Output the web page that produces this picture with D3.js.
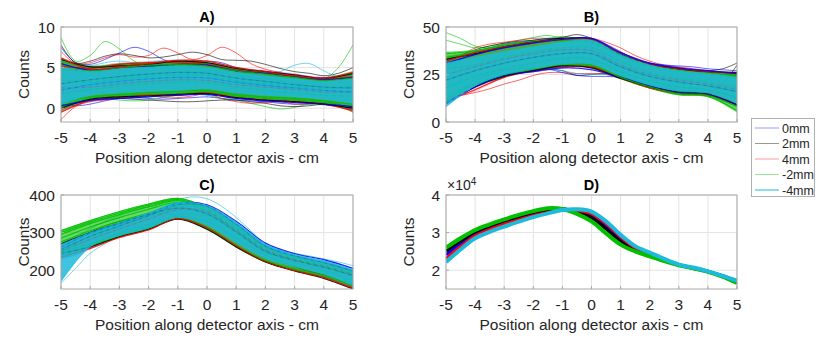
<!DOCTYPE html>
<html><head><meta charset="utf-8">
<script src="https://cdn.jsdelivr.net/npm/d3@7"></script>
<style>body{margin:0;background:#fff}svg{display:block;font-family:"Liberation Sans",Arial,sans-serif}</style>
</head><body><svg id="c" width="816" height="339"></svg>
<script>
// ---------- data ----------
const seriesNames = ["0mm", "2mm", "4mm", "-2mm", "-4mm"];
const xTicks = [-5, -4, -3, -2, -1, 0, 1, 2, 3, 4, 5];
const xCoarse = [-5, -4, -3, -2, -1, 0, 1, 2, 3, 4, 5];
const xFine = [-5, -4.5, -4, -3.5, -3, -2.5, -2, -1.5, -1, -0.5, 0, 0.5, 1, 1.5, 2, 2.5, 3, 3.5, 4, 4.5, 5];

// Panel A: envelope of each series' bundle of profiles (xCoarse), order as seriesNames
const aHi = [
  [6.0, 5.2, 5.5, 5.8, 6.0, 5.7, 5.1, 4.6, 4.2, 3.9, 4.4],
  [6.2, 5.3, 5.6, 5.7, 5.9, 5.8, 5.0, 4.7, 4.3, 3.8, 4.5],
  [6.3, 5.2, 5.6, 5.8, 6.0, 5.7, 5.0, 4.6, 4.2, 3.8, 4.6],
  [6.1, 5.2, 5.5, 5.7, 5.9, 5.7, 5.0, 4.5, 4.1, 3.7, 4.3],
  [5.0, 4.5, 4.8, 5.0, 5.2, 5.0, 4.4, 4.0, 3.6, 3.3, 3.6]];
const aLo = [
  [-0.3, 0.8, 1.1, 1.3, 1.5, 1.6, 1.1, 0.8, 0.6, 0.4, -0.2],
  [-0.4, 0.9, 1.2, 1.4, 1.5, 1.7, 1.2, 0.9, 0.7, 0.4, -0.3],
  [-0.6, 0.9, 1.2, 1.5, 1.6, 1.8, 1.2, 0.9, 0.7, 0.5, -0.4],
  [-0.2, 1.0, 1.3, 1.5, 1.6, 1.8, 1.3, 1.0, 0.8, 0.5, -0.1],
  [0.5, 1.6, 1.9, 2.1, 2.2, 2.4, 1.9, 1.6, 1.4, 1.1, 0.6]];
// Panel A: individual profiles inside the bundle (xCoarse) and their series
const aLineSeries = [3, 2, 1, 0, 3, 2, 3, 2, 1, 0, 3, 3, 2, 1, 3, 0];
const aLines = [
  [5.8, 5.0, 5.3, 5.5, 5.7, 5.5, 4.8, 4.4, 4.0, 3.6, 4.2],
  [5.2, 4.9, 5.4, 5.6, 5.6, 5.4, 4.7, 4.3, 3.9, 3.6, 3.9],
  [6.0, 5.1, 5.2, 5.4, 5.8, 5.6, 4.9, 4.5, 4.1, 3.7, 4.3],
  [5.5, 4.7, 5.0, 5.2, 5.4, 5.3, 4.6, 4.3, 3.9, 3.5, 3.8],
  [4.8, 4.6, 5.0, 5.3, 5.4, 5.2, 4.6, 4.2, 3.8, 3.4, 3.7],
  [6.2, 4.8, 5.1, 5.5, 5.9, 5.8, 5.0, 4.5, 4.0, 3.7, 4.4],
  [0.2, 1.2, 1.5, 1.7, 1.8, 2.0, 1.5, 1.2, 1.0, 0.7, 0.1],
  [-0.5, 1.0, 1.3, 1.6, 1.6, 1.9, 1.3, 1.0, 0.8, 0.5, -0.3],
  [0.0, 1.1, 1.4, 1.5, 1.7, 1.8, 1.3, 1.0, 0.8, 0.5, 0.0],
  [0.3, 1.0, 1.2, 1.4, 1.6, 1.7, 1.2, 0.9, 0.7, 0.5, 0.2],
  [0.6, 1.4, 1.7, 1.9, 2.1, 2.2, 1.7, 1.4, 1.2, 0.9, 0.5],
  [3.5, 3.2, 3.6, 3.9, 4.1, 4.0, 3.4, 3.0, 2.7, 2.4, 2.8],
  [2.5, 2.6, 3.0, 3.3, 3.5, 3.4, 2.9, 2.6, 2.3, 2.0, 2.0],
  [3.0, 3.5, 3.9, 4.2, 4.4, 4.3, 3.7, 3.3, 2.9, 2.6, 2.5],
  [1.8, 2.3, 2.7, 3.0, 3.2, 3.1, 2.6, 2.2, 1.9, 1.6, 1.5],
  [2.2, 2.9, 3.3, 3.6, 3.8, 3.7, 3.2, 2.8, 2.5, 2.2, 2.0]];
// Panel A: outlying profiles (xFine) and their series
const aOutSeries = [3, 0, 2, 1, 4, 3, 0, 3, 2, 1];
const aOut = [
  [8.7, 5.8, 6.5, 8.2, 7.3, 5.8, 5.2, 5.0, 4.8, 4.6, 4.5, 4.3, 4.0, 3.8, 3.6, 3.4, 3.2, 3.1, 3.3, 4.0, 4.5],
  [7.5, 5.6, 5.4, 6.0, 6.8, 7.5, 7.0, 6.0, 5.5, 5.6, 5.8, 5.6, 5.0, 4.6, 4.3, 4.0, 3.8, 3.6, 3.5, 3.8, 4.2],
  [7.0, 5.5, 5.6, 6.2, 6.6, 6.3, 6.5, 7.4, 6.8, 6.0, 6.5, 7.5, 6.8, 5.5, 4.8, 4.4, 4.0, 3.7, 3.6, 3.8, 4.3],
  [7.8, 5.6, 5.8, 6.4, 6.7, 6.5, 6.2, 6.3, 6.6, 6.9, 6.6, 6.0, 5.9, 5.8, 5.4, 4.9, 4.5, 4.3, 4.0, 4.3, 5.0],
  [5.5, 5.0, 5.2, 5.6, 5.8, 5.6, 5.4, 5.5, 5.6, 5.5, 5.3, 5.0, 4.8, 4.6, 4.4, 4.5, 5.3, 5.5, 4.6, 3.9, 4.2],
  [4.5, 4.8, 5.0, 5.2, 5.4, 5.5, 5.4, 5.3, 5.2, 5.0, 4.8, 4.6, 4.4, 4.2, 4.0, 3.9, 3.8, 3.7, 3.6, 5.0, 7.8],
  [0.5, 0.3, 0.5, 0.9, 1.2, 1.3, 1.2, 1.1, 1.2, 1.3, 1.4, 1.2, 1.0, 0.9, 0.8, 0.6, 0.5, 0.5, 0.6, 0.4, -0.2],
  [-0.3, 0.6, 1.0, 1.2, 1.0, 0.9, 1.0, 1.3, 1.6, 1.7, 1.6, 1.2, 1.0, 0.6, 0.2, -0.1, 0.1, 0.5, 0.4, 0.2, -0.5],
  [-1.4, 0.2, 0.8, 1.0, 1.3, 1.5, 1.6, 1.3, 1.3, 1.5, 1.8, 1.2, 0.8, 0.6, 0.7, 0.8, 0.5, 0.6, 0.7, 0.5, -0.5],
  [0.2, 0.6, 0.9, 1.1, 1.2, 1.1, 1.0, 0.9, 0.8, 0.8, 0.9, 1.0, 1.0, 0.8, 0.6, 0.3, 0.2, 0.3, 0.5, 0.4, 0.0]];

// Panel B
const bHi = [
  [34, 37, 40, 42.5, 44, 44.5, 37, 31.5, 29, 27.5, 26],
  [35, 37.5, 40.5, 43, 44.5, 44, 36, 31, 28.5, 27, 27],
  [33, 37.5, 40, 42.5, 44, 44, 37, 31, 28.5, 27, 26],
  [37, 38, 41, 43, 44, 43, 35.5, 30.5, 28, 26.5, 25],
  [31, 34, 37, 39.5, 42, 43, 35.5, 30, 27, 25.5, 23.5]];
const bLo = [
  [9, 18, 24, 26, 28, 27, 23, 18.5, 15, 14, 8],
  [10, 18, 23.5, 26.5, 29, 28, 22.5, 18, 15, 14, 8],
  [11, 16, 23, 26.5, 28.5, 28.5, 22.5, 17.5, 14.5, 13.5, 8],
  [11, 19, 24, 27, 29.5, 29, 22.5, 17.5, 14, 13, 5],
  [8, 19, 25, 28, 30.5, 30.5, 24.5, 19.5, 16.5, 15.5, 10]];
const bLineSeries = [3, 3, 1, 2, 0, 3, 2, 1, 0, 3, 3, 1, 2, 3];
const bLines = [
  [36, 37.5, 40.5, 42.5, 43.5, 42.5, 35, 30, 27.5, 26, 24.5],
  [34, 36.5, 40, 42, 43, 42, 34.5, 29.5, 27, 25.5, 24],
  [33, 36, 39.5, 42, 44, 43.5, 35.5, 30.5, 28, 26.5, 26],
  [32, 36.5, 39.5, 42, 43.5, 43.5, 36.5, 30.5, 28, 26.5, 25.5],
  [31, 35.5, 39, 41.5, 43.5, 44, 36.5, 31, 28.5, 27, 25.5],
  [12, 19.5, 24.5, 27.5, 30, 29.5, 23, 18, 14.5, 13.5, 6],
  [11, 17, 23.5, 27, 29, 29, 23, 18, 15, 14, 9],
  [10, 18.5, 24, 27, 29.5, 28.5, 23, 18.5, 15.5, 14.5, 9],
  [9.5, 18.5, 24.5, 26.5, 28.5, 27.5, 23.5, 19, 15.5, 14.5, 9],
  [14, 20, 25, 28, 30.5, 30, 23.5, 18.5, 15, 14, 8],
  [28, 30, 34, 37, 39, 39, 32, 26, 23, 21, 18],
  [22, 27, 31, 34, 36, 36, 29, 24, 21, 19, 16],
  [25, 29, 33, 36, 38, 37.5, 30, 25, 22, 20, 17],
  [18, 24, 28, 31, 33.5, 33, 26.5, 21.5, 18.5, 17, 13]];
const bOutSeries = [3, 3, 1, 1, 2, 2, 0, 0, 4];
const bOut = [
  [47, 44, 40, 39, 40, 41.5, 43, 44, 45, 44, 43, 40, 36, 33, 31, 29.5, 28.5, 27.5, 27, 26, 25],
  [43, 41, 39, 40, 41.5, 43, 44.5, 45.5, 44, 43, 42, 39, 35, 32, 30, 29, 28, 27, 26, 25, 24],
  [33, 35, 38, 40, 41.5, 42.5, 43, 43.5, 44.5, 46, 44, 40, 36, 32, 30, 29, 28, 27, 27, 28, 31],
  [12, 16, 20, 22.5, 25, 26.5, 27.5, 28, 27, 24.5, 25, 25.5, 24, 21, 19, 17, 16, 15, 15.5, 20, 30],
  [13, 14, 15.5, 17.5, 20, 22, 24.5, 26, 26, 25.5, 25.5, 25, 23, 21, 19, 17, 15.5, 15, 14.5, 13, 9],
  [32, 35, 39, 41, 42, 43, 44, 44, 43, 43.5, 44, 42, 39, 35, 32, 30, 29, 28, 27, 26, 24],
  [10, 17, 22, 25, 27, 28, 28.5, 28, 26, 24.5, 24, 24, 23.5, 22, 20, 18, 16.5, 15.5, 15, 15, 12],
  [30, 33, 37, 39, 41, 42, 43, 44, 44, 44, 44, 41, 37, 33, 31, 30, 29.5, 29, 28, 27.5, 27],
  [10, 14, 19, 22, 25, 26, 27, 27.5, 27, 25.5, 25, 25, 24, 22, 20, 18, 17, 16, 15.5, 15, 13]];

// Panel C
const cHi = [
  [262, 298, 324, 350, 378, 374, 330, 272, 244, 228, 205],
  [255, 290, 318, 345, 374, 370, 322, 264, 238, 220, 198],
  [258, 292, 320, 346, 376, 372, 324, 266, 238, 220, 200],
  [307, 333, 357, 377, 392, 368, 318, 262, 236, 218, 198],
  [268, 300, 326, 352, 380, 372, 328, 270, 242, 225, 202]];
const cLo = [
  [225, 256, 287, 308, 338, 314, 266, 224, 200, 182, 152],
  [230, 258, 288, 308, 335, 308, 262, 222, 198, 178, 148],
  [228, 255, 285, 306, 336, 312, 264, 222, 198, 180, 150],
  [232, 262, 288, 310, 336, 310, 262, 222, 198, 180, 152],
  [170, 262, 292, 312, 340, 320, 274, 232, 210, 190, 160]];
const cLineSeries = [3, 3, 3, 3, 3, 1, 2, 0, 1, 3, 3, 1, 2];
const cLines = [
  [305, 332, 356, 376, 391, 366, 316, 260, 234, 216, 196],
  [300, 328, 352, 373, 388, 362, 312, 256, 230, 213, 193],
  [295, 324, 348, 369, 385, 358, 308, 252, 227, 210, 190],
  [240, 265, 290, 311, 337, 310, 262, 222, 200, 182, 160],
  [250, 270, 294, 314, 340, 314, 266, 226, 203, 185, 165],
  [245, 262, 289, 309, 336, 309, 262, 222, 198, 178, 150],
  [235, 258, 287, 307, 337, 313, 265, 223, 199, 181, 152],
  [262, 298, 324, 350, 378, 374, 330, 272, 244, 228, 205],
  [255, 290, 318, 345, 374, 370, 322, 264, 238, 220, 198],
  [285, 315, 340, 362, 380, 356, 306, 254, 229, 211, 190],
  [275, 305, 330, 352, 370, 348, 300, 249, 225, 207, 186],
  [270, 300, 325, 348, 365, 350, 302, 250, 226, 208, 186],
  [250, 282, 310, 336, 362, 355, 306, 254, 228, 210, 188]];
const cOutSeries = [4, 4, 3, 1, 2];
const cOut = [
  [165, 205, 245, 270, 290, 305, 318, 330, 345, 360, 362, 345, 320, 295, 265, 248, 238, 230, 222, 212, 195],
  [270, 290, 310, 330, 345, 358, 368, 378, 388, 395, 390, 370, 340, 305, 270, 252, 245, 238, 230, 222, 212],
  [235, 240, 262, 285, 300, 312, 322, 332, 340, 350, 345, 330, 300, 270, 245, 232, 220, 208, 196, 185, 172],
  [260, 280, 300, 318, 330, 340, 348, 352, 345, 338, 330, 310, 285, 262, 240, 225, 210, 197, 188, 175, 155],
  [250, 272, 292, 310, 322, 332, 342, 352, 362, 372, 368, 345, 315, 285, 255, 238, 225, 212, 200, 188, 160]];

// Panel D: summed profiles (counts) at xFine
const dVals = [
  [24100, 27100, 29700, 31400, 32700, 33900, 34900, 35700, 36200, 35800, 34600, 31600, 28100, 25600, 24200, 22700, 21400, 20600, 19700, 18500, 17200],
  [25100, 27800, 30200, 31800, 33100, 34300, 35300, 36000, 36300, 35500, 34000, 31000, 27600, 25300, 23900, 22500, 21400, 20500, 19600, 18400, 16800],
  [23100, 26200, 29100, 30800, 32200, 33400, 34500, 35300, 36000, 35900, 35100, 32400, 28900, 26000, 24500, 22800, 21500, 20600, 19600, 18300, 16600],
  [26000, 28500, 30700, 32200, 33500, 34700, 35700, 36500, 36300, 35000, 33000, 29800, 26800, 25000, 23700, 22400, 21300, 20500, 19600, 18300, 16600],
  [22200, 25500, 28500, 30200, 31600, 32900, 34100, 35100, 36000, 36200, 35600, 33000, 29400, 26400, 24700, 23000, 21500, 20700, 19700, 18500, 17200]];

const yTicksA = [0, 5, 10], yTicksB = [0, 25, 50], yTicksC = [200, 300, 400], yTicksD = [20000, 30000, 40000];
const titles = ["A)", "B)", "C)", "D)"];

// ---------- styles / layout ----------
const colors = ["#0000ff", "#000000", "#ff0000", "#00c000", "#1cbadb"];
const bandOpacity = [0.18, 0.18, 0.18, 0.6];
const svg = d3.select("#c");
const panels = [
  {x0: 61, x1: 353, y0: 27, y1: 122, ylim: [-1.7, 10], yt: yTicksA, hi: aHi, lo: aLo, lines: aLines, ls: aLineSeries, out: aOut, os: aOutSeries, fmt: d => d},
  {x0: 446, x1: 737, y0: 27, y1: 122, ylim: [0, 50], yt: yTicksB, hi: bHi, lo: bLo, lines: bLines, ls: bLineSeries, out: bOut, os: bOutSeries, fmt: d => d},
  {x0: 61, x1: 353, y0: 195, y1: 289, ylim: [150, 400], yt: yTicksC, hi: cHi, lo: cLo, lines: cLines, ls: cLineSeries, out: cOut, os: cOutSeries, fmt: d => d},
  {x0: 446, x1: 737, y0: 195, y1: 289, ylim: [15000, 40000], yt: yTicksD, d: dVals, fmt: d => d / 10000}];

panels.forEach((p, i) => {
  const x = d3.scaleLinear().domain([-5, 5]).range([p.x0, p.x1]);
  const y = d3.scaleLinear().domain(p.ylim).range([p.y1, p.y0]);
  const g = svg.append("g");
  const cid = "clip" + i;
  g.append("clipPath").attr("id", cid).append("rect")
    .attr("x", p.x0).attr("y", p.y0).attr("width", p.x1 - p.x0).attr("height", p.y1 - p.y0);
  g.selectAll(".gx").data(xTicks).join("line").attr("x1", d => x(d)).attr("x2", d => x(d))
    .attr("y1", p.y0).attr("y2", p.y1).attr("stroke", "#e3e3e3").attr("stroke-width", 1);
  g.selectAll(".gy").data(p.yt).join("line").attr("y1", d => y(d)).attr("y2", d => y(d))
    .attr("x1", p.x0).attr("x2", p.x1).attr("stroke", "#e3e3e3").attr("stroke-width", 1);
  const plot = g.append("g").attr("clip-path", `url(#${cid})`);
  if (p.hi) {
    const area = d3.area().x((d, k) => x(xCoarse[k])).y0(d => y(d[0])).y1(d => y(d[1])).curve(d3.curveCatmullRom);
    const lineC = d3.line().x((d, k) => x(xCoarse[k])).y(d => y(d)).curve(d3.curveCatmullRom);
    const lineF = d3.line().x((d, k) => x(xFine[k])).y(d => y(d)).curve(d3.curveCatmullRom);
    p.out.forEach((vals, k) => {
      plot.append("path").attr("d", lineF(vals)).attr("fill", "none")
        .attr("stroke", colors[p.os[k]]).attr("stroke-width", 0.8).attr("stroke-opacity", 0.75);
    });
    [0, 1, 2, 3].forEach(s => {
      const pts = p.hi[s].map((h, k) => [p.lo[s][k], h]);
      plot.append("path").attr("d", area(pts)).attr("fill", colors[s]).attr("fill-opacity", bandOpacity[s]);
    });
    p.lines.forEach((vals, k) => {
      plot.append("path").attr("d", lineC(vals)).attr("fill", "none")
        .attr("stroke", colors[p.ls[k]]).attr("stroke-width", 1.2).attr("stroke-opacity", 0.85);
    });
    const cpts = p.hi[4].map((h, k) => [p.lo[4][k], h]);
    plot.append("path").attr("d", area(cpts)).attr("fill", colors[4]).attr("fill-opacity", 0.86);
    plot.append("path").attr("d", lineC(p.hi[4])).attr("fill", "none").attr("stroke", colors[4]).attr("stroke-width", 0.8);
    plot.append("path").attr("d", lineC(p.lo[4])).attr("fill", "none").attr("stroke", colors[4]).attr("stroke-width", 0.8);
    p.lines.forEach((vals, k) => {
      plot.append("path").attr("d", lineC(vals)).attr("fill", "none").attr("stroke-dasharray", "3 4")
        .attr("stroke", colors[p.ls[k]]).attr("stroke-width", 0.7).attr("stroke-opacity", 0.25);
    });
  } else {
    const lineF = d3.line().x((d, k) => x(xFine[k])).y(d => y(d)).curve(d3.curveCatmullRom);
    [0, 1, 2, 3, 4].forEach(s => {
      plot.append("path").attr("d", lineF(p.d[s])).attr("fill", "none")
        .attr("stroke", colors[s]).attr("stroke-width", s === 3 || s === 4 ? 4 : 3.2);
    });
  }
  g.append("rect").attr("x", p.x0).attr("y", p.y0).attr("width", p.x1 - p.x0).attr("height", p.y1 - p.y0)
    .attr("fill", "none").attr("stroke", "#a8a8a8").attr("stroke-width", 1);
  g.selectAll(".tx").data(xTicks).join("line").attr("x1", d => x(d)).attr("x2", d => x(d))
    .attr("y1", p.y1).attr("y2", p.y1 - 3).attr("stroke", "#a8a8a8");
  g.selectAll(".ty").data(p.yt).join("line").attr("y1", d => y(d)).attr("y2", d => y(d))
    .attr("x1", p.x0).attr("x2", p.x0 + 3).attr("stroke", "#a8a8a8");
  g.selectAll(".lx").data(xTicks).join("text").attr("x", d => x(d)).attr("y", p.y1 + 21)
    .attr("text-anchor", "middle").attr("font-size", 15.5).attr("fill", "#262626").text(d => d);
  g.selectAll(".ly").data(p.yt).join("text").attr("x", p.x0 - 6).attr("y", d => y(d) + 5.5)
    .attr("text-anchor", "end").attr("font-size", 15.5).attr("fill", "#262626").text(p.fmt);
  g.append("text").attr("x", (p.x0 + p.x1) / 2).attr("y", p.y1 + 41).attr("text-anchor", "middle")
    .attr("font-size", 15.5).attr("fill", "#262626").text("Position along detector axis - cm");
  g.append("text").attr("transform", `translate(${p.x0 - 32},${(p.y0 + p.y1) / 2}) rotate(-90)`)
    .attr("text-anchor", "middle").attr("font-size", 15.5).attr("fill", "#262626").text("Counts");
  g.append("text").attr("x", (p.x0 + p.x1) / 2).attr("y", p.y0 - 5).attr("text-anchor", "middle")
    .attr("font-size", 14.5).attr("font-weight", "bold").attr("fill", "#000").text(titles[i]);
  if (i === 3) {
    const t = g.append("text").attr("x", p.x0 + 1).attr("y", p.y0 - 5).attr("font-size", 14).attr("fill", "#262626");
    t.append("tspan").text("\u00d710");
    t.append("tspan").attr("dy", -5).attr("font-size", 10).text("4");
  }
});

// legend
const lg = svg.append("g");
lg.append("rect").attr("x", 751.5).attr("y", 118.5).attr("width", 63).attr("height", 78)
  .attr("fill", "#fff").attr("stroke", "#b0b0b0");
seriesNames.forEach((n, s) => {
  const yy = 128 + s * 15.5;
  lg.append("line").attr("x1", 755).attr("x2", 779).attr("y1", yy).attr("y2", yy)
    .attr("stroke", colors[s]).attr("stroke-opacity", s === 4 ? 1 : 0.4).attr("stroke-width", 1);
  lg.append("text").attr("x", 782).attr("y", yy + 4.5).attr("font-size", 12.5).attr("fill", "#262626").text(n);
});
</script></body></html>
